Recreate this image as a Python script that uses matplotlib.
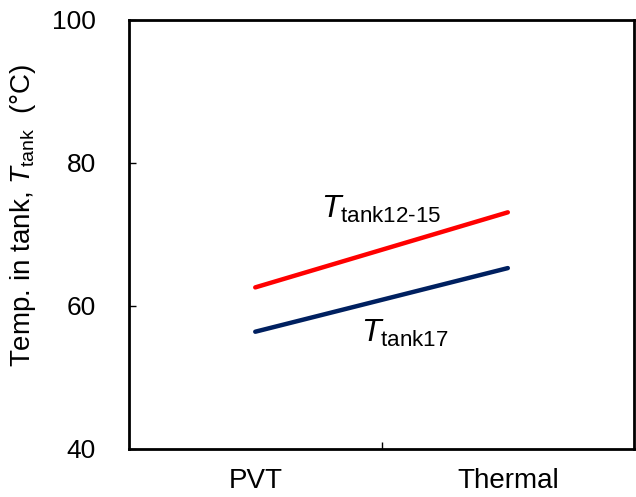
import matplotlib
matplotlib.use("Agg")
import matplotlib.pyplot as plt

plt.rcParams['font.family'] = ['Liberation Sans', 'DejaVu Sans']
plt.rcParams['mathtext.fontset'] = 'custom'
plt.rcParams['mathtext.rm'] = 'Liberation Sans'
plt.rcParams['mathtext.it'] = 'Liberation Sans:italic'
plt.rcParams['mathtext.bf'] = 'Liberation Sans:bold'

categories = ["PVT", "Thermal"]
t_tank12_15 = [62.6, 73.1]
t_tank17 = [56.4, 65.3]
y_ticks = [40, 60, 80, 100]

fig = plt.figure(figsize=(6.36, 4.97), dpi=100)
ax = fig.add_axes([0.2028, 0.0966, 0.7942, 0.8632])

x = list(range(len(categories)))
ax.plot(x, t_tank12_15, color="#FF0000", lw=3.2, solid_capstyle="round")
ax.plot(x, t_tank17, color="#002060", lw=3.2, solid_capstyle="round")

ax.set_xlim(-0.5, 1.5)
ax.set_ylim(40, 100)
ax.set_yticks(y_ticks)
ax.set_xticks(x)
ax.set_xticklabels(categories)
ax.set_xticks([0.5], minor=True)

ax.tick_params(axis="x", which="major", length=0, pad=13.5, labelsize=20)
ax.tick_params(axis="x", which="minor", direction="in", length=5, width=1)
ax.tick_params(axis="y", direction="in", length=5, width=1, pad=24, labelsize=19)

for s in ax.spines.values():
    s.set_linewidth(2)

ax.set_ylabel(r"Temp. in tank, $T_{\mathrm{tank}}$  (°C)", fontsize=20)
ax.yaxis.set_label_coords(-0.18, 0.545)

ax.text(0.26, 72.3, r"$T_{\text{tank12-15}}$", fontsize=23, ha="left", va="baseline")
ax.text(0.42, 55.0, r"$T_{\text{tank17}}$", fontsize=23, ha="left", va="baseline")

fig.savefig("out.png", dpi=100)
